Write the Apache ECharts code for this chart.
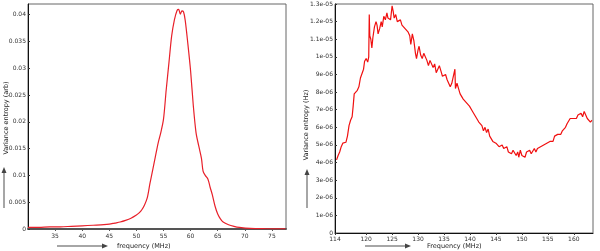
<!DOCTYPE html>
<html>
<head>
<meta charset="utf-8">
<script src="https://cdn.jsdelivr.net/npm/echarts@6/dist/echarts.min.js"></script>
<style>
  html, body { margin: 0; padding: 0; background: #fff; }
  #chart { width: 600px; height: 251px; }
</style>
</head>
<body>
<div id="chart"></div>
<script>
// Left panel: frequency (MHz) vs value
const leftFreq = [30, 32, 34, 36, 38, 40, 42, 44, 45, 46, 47, 48, 49, 50, 50.5, 51, 51.5, 52, 52.5,
  53, 53.5, 54, 54.5, 55, 55.5, 56, 56.5, 57, 57.5, 57.8, 58.1, 58.4, 58.7, 59, 59.5, 60, 60.5,
  61, 61.5, 62, 62.3, 62.7, 63.2, 63.6, 64, 64.5, 65, 65.5, 66, 67, 68, 69, 71, 74, 77.5];
const leftVal = [0.0003, 0.0003, 0.0004, 0.0004, 0.0005, 0.0006, 0.0007, 0.0008, 0.0009, 0.0011,
  0.0013, 0.0016, 0.002, 0.0026, 0.003, 0.0036, 0.0045, 0.0058, 0.0085, 0.011, 0.0135, 0.016,
  0.018, 0.0205, 0.026, 0.031, 0.036, 0.039, 0.0408, 0.041, 0.0401, 0.0407, 0.0405, 0.039,
  0.0345, 0.0295, 0.023, 0.018, 0.0155, 0.0132, 0.0108, 0.01, 0.0093, 0.0078, 0.0064, 0.0043,
  0.0028, 0.0019, 0.0013, 0.0008, 0.0005, 0.0003, 0.0001, 0.00005, 0.00003];
const leftXTicks = [35, 40, 45, 50, 55, 60, 65, 70, 75];
const leftYTicks = [0, 0.005, 0.01, 0.015, 0.02, 0.025, 0.03, 0.035, 0.04];

// Right panel: frequency (MHz) vs value, values in units of 1e-6
const rightFreq = [114.3, 114.6, 114.9, 115.2, 115.5, 115.8, 116.1, 116.4, 116.7, 117.0, 117.3,
  117.5, 117.7, 118.0, 118.3, 118.6, 118.9, 119.2, 119.5, 119.7, 120.0, 120.3, 120.5, 120.6,
  120.7, 120.9, 121.1, 121.3, 121.6, 121.9, 122.1, 122.3, 122.6, 122.9, 123.1, 123.4, 123.7,
  124.0, 124.2, 124.4, 124.7, 125.0, 125.2, 125.4, 125.7, 126.0, 126.3, 126.6, 126.9, 127.2,
  127.5, 127.8, 128.1, 128.4, 128.6, 128.9, 129.2, 129.5, 129.7, 130.0, 130.2, 130.5, 130.8,
  131.1, 131.4, 131.7, 132.0, 132.3, 132.6, 132.9, 133.2, 133.5, 133.8, 134.1, 134.4, 134.7,
  135.0, 135.3, 135.6, 135.9, 136.2, 136.5, 136.8, 137.1, 137.2, 137.5, 137.8, 138.1, 138.4,
  138.7, 139.0, 139.3, 139.6, 139.9, 140.2, 140.5, 140.8, 141.1, 141.4, 141.7, 142.0, 142.3,
  142.6, 142.9, 143.2, 143.5, 143.8, 144.1, 144.4, 144.7, 145.0, 145.3, 145.6, 145.9, 146.2,
  146.5, 146.8, 147.1, 147.4, 147.7, 148.0, 148.3, 148.6, 148.9, 149.2, 149.4, 149.7, 150.0,
  150.3, 150.6, 150.9, 151.2, 151.5, 151.8, 152.1, 152.4, 152.7, 153.0, 153.3, 153.6, 153.9,
  154.2, 154.5, 154.8, 155.1, 155.4, 155.7, 156.0, 156.3, 156.6, 156.9, 157.2, 157.5, 157.8,
  158.1, 158.4, 158.7, 159.0, 159.3, 159.6, 159.9, 160.2, 160.5, 160.8, 161.1, 161.4, 161.7,
  162.0, 162.3, 162.6, 162.9, 163.2, 163.5];
const rightVal = [4.15, 4.4, 4.6, 4.9, 5.1, 5.2, 5.15, 5.5, 6.1, 6.4, 6.6,
  7.2, 7.9, 7.8, 8.1, 8.3, 8.8, 8.9, 9.3, 9.75, 9.9, 9.7, 10.0, 12.4,
  11.2, 11.0, 10.5, 11.1, 11.7, 12.0, 11.8, 11.3, 11.6, 12.0, 11.7, 12.3, 12.1,
  12.5, 12.2, 12.3, 12.1, 12.9, 12.6, 12.2, 12.4, 12.0, 11.9, 12.1, 11.8, 11.9,
  11.6, 11.7, 11.4, 11.2, 10.7, 11.3, 10.9, 10.2, 9.9, 10.4, 10.6, 10.1, 9.9,
  10.2, 10.3, 9.8, 9.5, 9.8, 9.7, 9.4, 9.6, 9.1, 9.3, 9.5, 9.2, 8.9,
  8.8, 9.0, 8.7, 8.5, 8.3, 8.5, 8.6, 9.3, 8.2, 8.5, 8.2, 7.9, 8.0,
  7.6, 7.7, 7.4, 7.5, 7.2, 7.2, 6.9, 7.0, 6.6, 6.7, 6.3, 6.2, 6.1,
  5.8, 6.0, 5.7, 5.9, 5.5, 5.6, 5.2, 5.3, 5.1, 5.2, 4.9, 4.85, 5.0,
  4.8, 4.7, 4.9, 4.6, 4.7, 4.5, 4.7, 4.6, 4.4, 4.6, 4.3, 4.7, 4.4,
  4.5, 4.3, 4.6, 4.5, 4.7, 4.5, 4.6, 4.8, 4.6, 4.8, 4.7, 4.9, 4.8,
  5.0, 4.9, 5.1, 5.0, 5.2, 5.3, 5.2, 5.5, 5.4, 5.6, 5.7, 5.6, 5.8,
  5.9, 6.0, 6.2, 6.3, 6.5, 6.4, 6.5, 6.6, 6.5, 6.7, 6.6, 6.8, 6.6,
  6.9, 6.7, 6.5, 6.6, 6.3, 6.4];
const rightXTicks = [114, 120, 125, 130, 135, 140, 145, 150, 155, 160];

function sciLabel(v) {
  // v is in units of 1e-6
  if (Math.abs(v) < 1e-9) return "0";
  const x = v * 1e-6;
  const e = Math.floor(Math.log10(x) + 1e-9);
  const m = +(x / Math.pow(10, e)).toFixed(2);
  return m + "e-" + String(-e).padStart(2, "0");
}

function pairs(xs, ys) {
  return xs.map((x, i) => [x, ys[i]]);
}

const labelStyle = { fontSize: 6, color: "#333", fontFamily: "DejaVu Sans" };
const nameStyle = { fontSize: 6.5, fill: "#222", fontFamily: "DejaVu Sans" };

function arrow(x1, y1, x2, y2) {
  return {
    type: "line",
    shape: { x1: x1, y1: y1, x2: x2, y2: y2 },
    style: { stroke: "#888", lineWidth: 1.5 },
  };
}

const chartDom = document.getElementById("chart");
const myChart = echarts.init(chartDom, null, { renderer: "canvas" });
const option = {
  animation: false,
  grid: [
    { left: 28, top: 4, width: 258, bottom: 22, show: true, borderColor: "#666", borderWidth: 1 },
    { left: 335, top: 4, right: 7, bottom: 18, show: true, borderColor: "#666", borderWidth: 1 },
  ],
  xAxis: [
    {
      gridIndex: 0,
      type: "value",
      min: 30,
      max: 77.6,
      axisLine: { lineStyle: { color: "#555", width: 2 } },
      axisTick: { length: 2, lineStyle: { color: "#555" }, customValues: leftXTicks },
      axisLabel: Object.assign({ margin: 4, customValues: leftXTicks }, labelStyle),
      splitLine: { show: false },
    },
    {
      gridIndex: 1,
      type: "value",
      min: 114,
      max: 163.7,
      axisLine: { lineStyle: { color: "#111", width: 1 } },
      axisTick: { length: 2, lineStyle: { color: "#333" }, customValues: rightXTicks },
      axisLabel: Object.assign({ margin: 3, customValues: rightXTicks }, labelStyle),
      splitLine: { show: false },
    },
  ],
  yAxis: [
    {
      gridIndex: 0,
      type: "value",
      min: 0,
      max: 0.042,
      axisLine: { show: true, lineStyle: { color: "#111", width: 1 } },
      axisTick: { show: true, length: 2, inside: true, lineStyle: { color: "#333" }, customValues: leftYTicks },
      axisLabel: Object.assign({ margin: 2, customValues: leftYTicks }, labelStyle),
      splitLine: { show: false },
    },
    {
      gridIndex: 1,
      type: "value",
      min: 0,
      max: 13,
      interval: 1,
      axisLine: { show: true, lineStyle: { color: "#111", width: 1 } },
      axisTick: { show: true, length: 2, inside: true, lineStyle: { color: "#333" } },
      axisLabel: Object.assign({ margin: 2, formatter: sciLabel }, labelStyle),
      splitLine: { show: false },
    },
  ],
  graphic: [
    arrow(57, 246, 104, 246),
    { type: "polygon", shape: { points: [[102, 243.5], [108, 246], [102, 248.5]] }, style: { fill: "#444" } },
    arrow(4, 208, 4, 171),
    { type: "polygon", shape: { points: [[1.5, 173], [4, 167], [6.5, 173]] }, style: { fill: "#444" } },
    arrow(365, 246, 407, 246),
    { type: "polygon", shape: { points: [[405, 243.5], [411, 246], [405, 248.5]] }, style: { fill: "#444" } },
    arrow(307, 208, 307, 173),
    { type: "polygon", shape: { points: [[304.5, 175], [307, 169], [309.5, 175]] }, style: { fill: "#444" } },
    { type: "text", left: 117, top: 243, style: Object.assign({ text: "frequency (MHz)" }, nameStyle) },
    { type: "text", left: 427, top: 243, style: Object.assign({ text: "Frequency (MHz)" }, nameStyle) },
    { type: "text", x: 6, y: 118, rotation: Math.PI / 2, style: Object.assign({ text: "Variance entropy (arb)", align: "center", verticalAlign: "middle" }, nameStyle) },
    { type: "text", x: 306, y: 125, rotation: Math.PI / 2, style: Object.assign({ text: "Variance entropy (Hz)", align: "center", verticalAlign: "middle" }, nameStyle) },
  ],
  series: [
    {
      type: "line",
      xAxisIndex: 0,
      yAxisIndex: 0,
      data: pairs(leftFreq, leftVal),
      smooth: 0.3,
      showSymbol: false,
      lineStyle: { color: "#e8202a", width: 1.2 },
    },
    {
      type: "line",
      xAxisIndex: 1,
      yAxisIndex: 1,
      data: pairs(rightFreq, rightVal),
      showSymbol: false,
      lineStyle: { color: "#f01010", width: 1.2 },
    },
  ],
};
myChart.setOption(option);
</script>
</body>
</html>
